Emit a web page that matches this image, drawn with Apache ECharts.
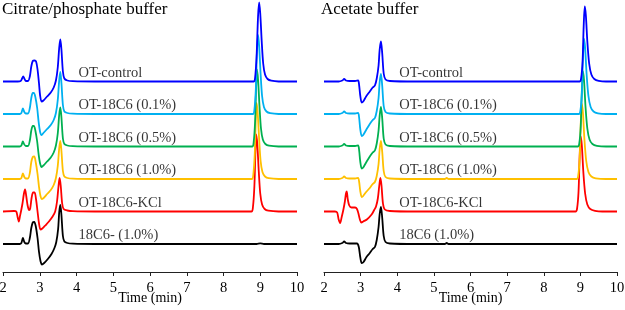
<!DOCTYPE html>
<html>
<head>
<meta charset="utf-8">
<script src="https://cdn.jsdelivr.net/npm/echarts@6/dist/echarts.min.js"></script>
<style>
  html, body { margin: 0; padding: 0; background: #fff; }
  #chart { width: 625px; height: 310px; }
</style>
</head>
<body>
<div id="chart"></div>
<script>
// trace colours, top to bottom
const traceColors = ['#0000FF', '#00B0F0', '#00B050', '#FFC000', '#FF0000', '#000000'];
// vertical offset of each trace baseline (signal units)
const traceOffsets = [190.5, 158, 125.5, 93, 60.5, 28];

const cpLabels = ['OT-control', 'OT-18C6 (0.1%)', 'OT-18C6 (0.5%)', 'OT-18C6 (1.0%)', 'OT-18C6-KCl', '18C6- (1.0%)'];
const acLabels = ['OT-control', 'OT-18C6 (0.1%)', 'OT-18C6 (0.5%)', 'OT-18C6 (1.0%)', 'OT-18C6-KCl', '18C6 (1.0%)'];

const xTicks = [2, 3, 4, 5, 6, 7, 8, 9, 10];

// ---- Citrate/phosphate buffer: [time, signal]
const cpControl = [[2.0,0],[2.4,0],[2.48,0.5],[2.52,3],[2.55,5],[2.58,3],[2.62,0.5],[2.68,0.5],[2.73,5],[2.77,15],[2.81,20.5],[2.86,21],[2.9,20],[2.94,12],[2.98,-2],[3.01,-14],[3.05,-20],[3.1,-19],[3.2,-15],[3.3,-11],[3.38,-6],[3.44,1],[3.49,14],[3.53,34],[3.56,42],[3.59,32],[3.63,10],[3.67,3],[3.75,1],[3.9,0.3],[4.5,0],[8.82,0],[8.86,4],[8.9,25],[8.94,65],[8.97,79],[9.0,68],[9.04,40],[9.08,18],[9.13,7],[9.2,2.5],[9.3,0.8],[9.5,0],[10,0]];
const cp01 = [[2.0,0],[2.45,0],[2.5,1],[2.54,5.5],[2.58,2],[2.62,0.5],[2.68,0.5],[2.73,6],[2.77,16],[2.81,21],[2.84,21],[2.88,17],[2.93,6],[2.97,-8],[3.01,-18],[3.05,-21],[3.1,-19],[3.2,-15],[3.3,-11],[3.38,-6],[3.44,1],[3.49,14],[3.53,34],[3.56,42],[3.59,31],[3.63,9],[3.67,2.5],[3.75,1],[3.9,0.3],[4.5,0],[8.8,0],[8.84,4],[8.88,25],[8.91,62],[8.94,79],[8.97,68],[9.01,40],[9.05,18],[9.1,7],[9.17,2.5],[9.27,0.8],[9.5,0],[10,0]];
const cp05 = [[2.0,0],[2.45,0],[2.5,1],[2.54,5],[2.58,2],[2.62,0.5],[2.68,0.5],[2.73,6],[2.77,16],[2.81,20.5],[2.84,20.5],[2.88,16],[2.93,5],[2.97,-8],[3.01,-17],[3.05,-20.5],[3.1,-19],[3.2,-15],[3.3,-11],[3.38,-6],[3.44,1],[3.49,13],[3.53,32],[3.56,39],[3.59,29],[3.63,8],[3.67,2.5],[3.75,1],[3.9,0.3],[4.5,0],[8.78,0],[8.82,4],[8.86,25],[8.89,62],[8.91,77],[8.94,67],[8.98,40],[9.02,18],[9.07,7],[9.14,2.5],[9.24,0.8],[9.5,0],[10,0]];
const cp10 = [[2.0,0],[2.45,0],[2.5,1],[2.54,5.5],[2.58,2],[2.62,0.5],[2.68,0.5],[2.73,6],[2.77,17],[2.81,22],[2.85,22.5],[2.89,17],[2.94,5],[2.98,-8],[3.02,-17],[3.06,-20],[3.12,-18.5],[3.2,-15],[3.3,-11],[3.38,-6],[3.44,1],[3.49,13],[3.53,31],[3.56,38],[3.59,28],[3.63,8],[3.67,2.5],[3.75,1],[3.9,0.3],[4.5,0],[8.77,0],[8.81,4],[8.85,25],[8.88,62],[8.9,76],[8.93,66],[8.97,40],[9.01,18],[9.06,7],[9.13,2.5],[9.23,0.8],[9.5,0],[10,0]];
const cpKcl = [[2.0,0],[2.3,0.5],[2.36,0],[2.4,-6],[2.43,-10],[2.46,-5],[2.5,2],[2.53,8],[2.57,18],[2.6,22],[2.63,16],[2.67,6],[2.71,1.5],[2.74,3],[2.78,14],[2.82,19],[2.86,19],[2.9,12],[2.94,0],[2.98,-12],[3.02,-18],[3.07,-17],[3.15,-14],[3.25,-10],[3.35,-5],[3.42,0],[3.47,10],[3.51,25],[3.54,33.5],[3.57,26],[3.61,8],[3.65,2.5],[3.75,1],[3.9,0.3],[4.5,0],[8.76,0],[8.8,4],[8.84,25],[8.87,62],[8.89,77],[8.92,67],[8.96,40],[9.0,18],[9.05,7],[9.12,2.5],[9.22,0.8],[9.5,0],[10,0]];
const cp18c6 = [[2.0,0],[2.45,0],[2.5,1],[2.54,6],[2.58,2],[2.62,0.5],[2.68,0.5],[2.73,6],[2.77,16],[2.81,21.5],[2.85,22],[2.89,18],[2.94,6],[2.98,-8],[3.02,-17],[3.06,-20.5],[3.12,-19],[3.22,-15],[3.32,-10],[3.4,-4],[3.45,2],[3.5,15],[3.53,32],[3.56,39],[3.59,29],[3.63,8],[3.67,2.5],[3.75,1],[3.9,0.3],[4.5,0],[8.9,0],[9.0,0.6],[9.1,0],[10,0]];

// ---- Acetate buffer: [time, signal]
const acControl = [[2.0,0],[2.4,0],[2.5,1],[2.55,2.5],[2.6,1],[2.7,0.5],[2.85,0.5],[2.93,1],[2.96,-4],[2.99,-14],[3.03,-21],[3.07,-20],[3.15,-15],[3.25,-10],[3.33,-6],[3.39,-4],[3.44,3],[3.49,16],[3.52,32],[3.555,40],[3.59,28],[3.63,8],[3.68,2],[3.8,0.5],[4.5,0],[8.98,0],[9.02,3],[9.06,20],[9.09,55],[9.12,75],[9.15,66],[9.19,40],[9.24,18],[9.3,7],[9.38,2.5],[9.5,0.7],[9.7,0],[10,0]];
const ac01 = [[2.0,0],[2.4,0],[2.5,1],[2.55,2.5],[2.6,1],[2.7,0.5],[2.85,0.5],[2.93,1],[2.96,-4],[2.99,-15],[3.03,-22],[3.07,-21],[3.15,-16],[3.25,-10],[3.33,-6],[3.39,-4],[3.44,3],[3.49,16],[3.52,32],[3.555,40],[3.59,28],[3.63,8],[3.68,2],[3.8,0.5],[4.5,0],[8.96,0],[9.0,3],[9.04,20],[9.07,55],[9.1,75],[9.13,66],[9.17,40],[9.22,18],[9.28,7],[9.36,2.5],[9.48,0.7],[9.7,0],[10,0]];
const ac05 = [[2.0,0],[2.4,0],[2.5,1],[2.55,2.5],[2.6,1],[2.7,0.5],[2.85,0.5],[2.93,1],[2.96,-4],[2.99,-15],[3.03,-22],[3.07,-21],[3.15,-16],[3.25,-10],[3.33,-6],[3.39,-4],[3.44,3],[3.49,16],[3.52,31],[3.555,39.5],[3.59,28],[3.63,8],[3.68,2],[3.8,0.5],[4.5,0],[8.93,0],[8.97,3],[9.01,20],[9.04,55],[9.07,75],[9.1,66],[9.14,40],[9.19,18],[9.25,7],[9.33,2.5],[9.45,0.7],[9.7,0],[10,0]];
const ac10 = [[2.0,0],[2.4,0],[2.5,1],[2.55,2.5],[2.6,1],[2.7,0.5],[2.85,0.5],[2.93,1],[2.96,-3],[2.99,-12],[3.03,-18],[3.07,-17],[3.15,-13],[3.25,-9],[3.33,-5],[3.39,-3],[3.44,3],[3.49,15],[3.52,30],[3.555,38],[3.59,27],[3.63,8],[3.68,2],[3.8,0.5],[4.5,0],[5.3,0],[5.35,1],[5.4,0],[8.9,0],[8.94,3],[8.98,20],[9.01,55],[9.04,75],[9.07,66],[9.11,40],[9.16,18],[9.22,7],[9.3,2.5],[9.42,0.7],[9.7,0],[10,0]];
const acKcl = [[2.0,0],[2.3,0],[2.36,-1],[2.4,-8],[2.44,-11.5],[2.48,-6],[2.53,2],[2.57,10],[2.6,18],[2.62,20],[2.65,12],[2.69,6],[2.75,4],[2.85,4],[2.9,2.5],[2.94,-2],[2.98,-8],[3.02,-11],[3.07,-10],[3.17,-8],[3.3,-3],[3.37,1.5],[3.42,5],[3.47,13],[3.51,26],[3.54,33.5],[3.57,26],[3.61,8],[3.66,2],[3.8,0.5],[4.5,0],[8.87,0],[8.91,3],[8.95,20],[8.98,55],[9.01,75],[9.04,66],[9.08,40],[9.13,18],[9.19,7],[9.27,2.5],[9.4,0.7],[9.6,0],[10,0]];
const ac18c6 = [[2.0,0],[2.4,0],[2.5,1],[2.55,2.5],[2.6,1],[2.7,0.5],[2.9,0.5],[2.95,-3],[2.99,-13],[3.03,-19],[3.08,-18],[3.16,-13],[3.25,-9],[3.33,-5],[3.39,-3],[3.44,4],[3.49,17],[3.52,30],[3.555,37],[3.59,26],[3.63,8],[3.68,2],[3.8,0.5],[4.5,0],[5.3,0],[5.35,1],[5.4,0],[10,0]];

const cpTraces = [cpControl, cp01, cp05, cp10, cpKcl, cp18c6];
const acTraces = [acControl, ac01, ac05, ac10, acKcl, ac18c6];

const SERIF = '"Liberation Serif", "DejaVu Serif", serif';
const LABEL_T = 4.04; // time where the trace names start

const buildSeries = (traces, labels, axisIndex) => {
  const lines = traces.map((pts, i) => ({
    type: 'line',
    xAxisIndex: axisIndex,
    yAxisIndex: axisIndex,
    data: pts.map((p) => [p[0], p[1] + traceOffsets[i]]),
    showSymbol: false,
    smooth: 0.3,
    clip: false,
    silent: true,
    lineStyle: { color: traceColors[i], width: 1.8 },
    z: 10 - i,
  }));
  // names written just above each baseline
  lines.push({
    type: 'scatter',
    xAxisIndex: axisIndex,
    yAxisIndex: axisIndex,
    symbolSize: 1,
    itemStyle: { color: 'rgba(0,0,0,0)' },
    silent: true,
    data: labels.map((name, i) => [LABEL_T, traceOffsets[i] + 8.5, name]),
    label: {
      show: true,
      position: 'right',
      distance: 0,
      formatter: (p) => p.data[2],
      color: '#000',
      fontFamily: SERIF,
      fontSize: 14.5,
    },
  });
  return lines;
};

const xAxisBase = (gridIndex) => ({
  type: 'value',
  gridIndex,
  min: 2,
  max: 10,
  interval: 1,
  name: 'Time (min)',
  nameLocation: 'middle',
  nameGap: 19,
  nameMoveOverlap: false,
  nameTextStyle: { color: '#000', fontFamily: SERIF, fontSize: 14 },
  axisLine: { show: true, onZero: false, lineStyle: { color: '#222', width: 1 } },
  axisTick: { show: true, inside: false, length: 4, lineStyle: { color: '#222' } },
  axisLabel: { color: '#000', fontFamily: SERIF, fontSize: 14.5, margin: 9 },
  splitLine: { show: false },
});

const yAxisBase = (gridIndex) => ({
  type: 'value',
  gridIndex,
  min: 0,
  max: 272,
  show: false,
});

const chart = echarts.init(document.getElementById('chart'));
chart.setOption({
  animation: false,
  backgroundColor: '#fff',
  title: [
    { text: 'Citrate/phosphate buffer', left: -3, top: -4,
      textStyle: { fontFamily: SERIF, fontSize: 17, fontWeight: 'normal', color: '#000' } },
    { text: 'Acetate buffer', left: 316, top: -4,
      textStyle: { fontFamily: SERIF, fontSize: 17, fontWeight: 'normal', color: '#000' } },
  ],
  grid: [
    { left: 3, width: 294, top: 0, bottom: 38, containLabel: false, outerBoundsMode: 'none' },
    { left: 324, width: 293, top: 0, bottom: 38, containLabel: false, outerBoundsMode: 'none' },
  ],
  xAxis: [xAxisBase(0), xAxisBase(1)],
  yAxis: [yAxisBase(0), yAxisBase(1)],
  series: [...buildSeries(cpTraces, cpLabels, 0), ...buildSeries(acTraces, acLabels, 1)],
});
</script>
</body>
</html>
